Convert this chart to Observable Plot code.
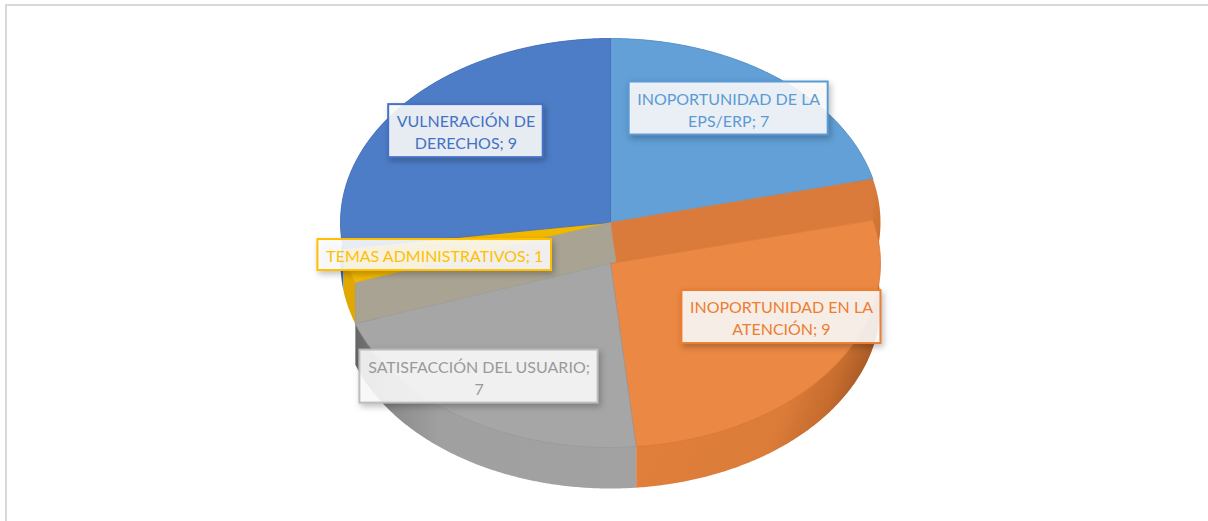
<!DOCTYPE html>
<html><head><meta charset="utf-8">
<script src="https://cdn.jsdelivr.net/npm/d3@7"></script>
<script src="https://cdn.jsdelivr.net/npm/@observablehq/plot@0.6"></script>
<style>
html,body{margin:0;padding:0;background:#fff;width:1208px;height:521px;overflow:hidden;}
#chart{position:absolute;left:0;top:0;}
#frame{position:absolute;left:5px;top:4px;width:1240px;height:560px;border:2px solid #d9d9d9;box-sizing:border-box;pointer-events:none;}
#chart g[aria-label="rect"]{filter:drop-shadow(2px 3px 3px rgba(0,0,0,0.28));}
</style></head><body>
<div id="chart"></div><div id="frame"></div>
<script>
// ---- data ----
const categories = ["INOPORTUNIDAD DE LA EPS/ERP", "INOPORTUNIDAD EN LA ATENCIÓN", "SATISFACCIÓN DEL USUARIO", "TEMAS ADMINISTRATIVOS", "VULNERACIÓN DE DERECHOS"];
const values = [7, 9, 7, 1, 9];

// ---- styles ----
const topColors = ["#62A0D7", "#EB8843", "#A6A6A6", "#F2B800", "#4E7DC8"];
const wallColors = ["#4F8AC2", "url(#gOrange)", "url(#gGray)", "#E0A800", "#3E67B0"];
const sideColors = [null, "#DA7B3C", "#A8A392", null, null];
const edgeColors = ["#5690C8", "#D8773A", "#999999", "#E0A800", "#456FB8"];
const textColors = ["#5B9BD5", "#ED7D31", "#9A9A9A", "#FFC000", "#4472C4"];
const borderColors = ["#5B9BD5", "#ED7D31", "#BDBDBD", "#FFC000", "#4472C4"];
const dropped = [false, true, true, false, false];
const breakAfterWord = [3, 3, 3, 0, 2];
const labelRadius = 0.75;
const labelNudge = [[-7, -5.5], [6, -26.5], [-22, -3], [21, 0], [8.5, -1]]; // px
const FS = 16, LH = 22, PADX = 8, PADY = 4.5, FONT = "Lato";

// ---- layout ----
const W = 1208, H = 521, PX = 270, CX = 610, CY = 222;
const TILT = 184 / 270, DEPTH = 41 / PX;

const arcs = d3.pie().sort(null).value(d => d)(values);
const P = (a, r, dy) => [r * Math.sin(a), TILT * r * Math.cos(a) - dy];
function arcPts(a0, a1, dy) {
  const n = Math.max(2, Math.ceil(Math.abs(a1 - a0) / (Math.PI / 360)));
  return d3.range(n + 1).map(k => P(a0 + (a1 - a0) * k / n, 1, dy));
}
const slices = arcs.map((a, i) => ({i, a0: a.startAngle, a1: a.endAngle, d: dropped[i] ? DEPTH : 0}));
const polys = [];
for (const group of [slices.filter(s => !s.d), slices.filter(s => s.d)]) {
  for (const s of group) {
    const top = arcPts(s.a0, s.a1, 0), bot = arcPts(s.a1, s.a0, s.d + DEPTH);
    polys.push({pts: [...top, ...bot, top[0]], fill: wallColors[s.i], stroke: "none", sw: 0});
  }
  for (const s of group) if (s.d) for (const a of [s.a0, s.a1]) {
    const c0 = P(a, 0, 0), e0 = P(a, 1, 0), e1 = P(a, 1, s.d), c1 = P(a, 0, s.d);
    polys.push({pts: [c0, e0, e1, c1, c0], fill: sideColors[s.i], stroke: sideColors[s.i], sw: 0.5});
  }
  for (const s of group) {
    const arc = arcPts(s.a0, s.a1, s.d), c = P(0, 0, s.d);
    polys.push({pts: [c, ...arc, c], fill: topColors[s.i], stroke: edgeColors[s.i], sw: 0.8});
  }
}

// ---- labels ----
const ctx = document.createElement("canvas").getContext("2d");
ctx.font = `${FS}px ${FONT}`;
const labels = slices.map(s => {
  const words = `${categories[s.i]}; ${values[s.i]}`.split(" ");
  const b = breakAfterWord[s.i];
  const lines = b ? [words.slice(0, b).join(" "), words.slice(b).join(" ")] : [words.join(" ")];
  const mid = (s.a0 + s.a1) / 2;
  const [x, y] = P(mid, labelRadius, s.d);
  const cx = x + labelNudge[s.i][0] / PX, cy = y - labelNudge[s.i][1] / PX;
  const w = (d3.max(lines, l => ctx.measureText(l).width) + 2 * PADX) / PX;
  const h = (lines.length * LH + 2 * PADY) / PX;
  return {cx, cy, x1: cx - w / 2, x2: cx + w / 2, y1: cy - h / 2, y2: cy + h / 2,
          text: lines.join("\n"), color: textColors[s.i], border: borderColors[s.i]};
});

const defs = () => {
  const d = d3.create("svg:defs");
  const g1 = d.append("linearGradient").attr("id", "gOrange").attr("x1", 0).attr("x2", 1).attr("y1", 0).attr("y2", 0.5);
  [[0, "#E3823E"], [0.78, "#DC7C39"], [0.92, "#C56C2E"], [1, "#A85A26"]].forEach(([o, c]) => g1.append("stop").attr("offset", o).attr("stop-color", c));
  const g2 = d.append("linearGradient").attr("id", "gGray").attr("x1", 0).attr("x2", 1).attr("y1", 0).attr("y2", 0);
  [[0, "#666666"], [0.12, "#8A8A8A"], [0.3, "#A0A0A0"], [1, "#A2A2A2"]].forEach(([o, c]) => g2.append("stop").attr("offset", o).attr("stop-color", c));
  return d.node();
};

const chart = Plot.plot({
  width: W, height: H, margin: 0,
  x: {domain: [-CX / PX, (W - CX) / PX], axis: null},
  y: {domain: [-(H - CY) / PX, CY / PX], axis: null},
  color: {type: "identity"},
  style: {background: "transparent"},
  marks: [
    defs,
    ...polys.map(p => Plot.line(p.pts, {x: d => d[0], y: d => d[1], fill: p.fill, stroke: p.stroke, strokeWidth: p.sw})),
    Plot.rect(labels, {x1: "x1", x2: "x2", y1: "y1", y2: "y2", fill: "white", fillOpacity: 0.88, stroke: "border", strokeWidth: 2}),
    Plot.text(labels, {x: "cx", y: "cy", text: "text", fill: "color", fontSize: FS, fontFamily: FONT, lineHeight: LH / FS, textAnchor: "middle"})
  ]
});
document.getElementById("chart").append(chart);
</script>
</body></html>
